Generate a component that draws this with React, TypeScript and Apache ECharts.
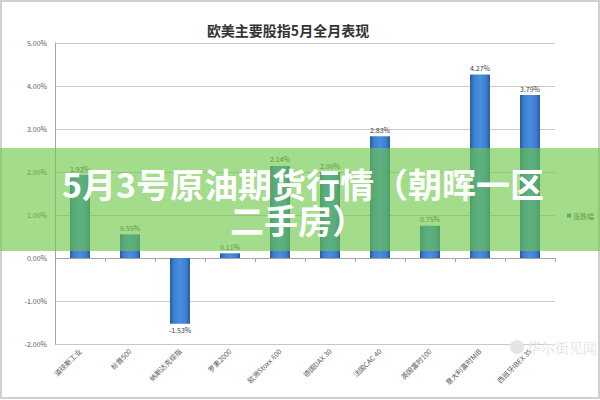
import React, { useEffect, useRef } from "react";
import * as echarts from "echarts";

const categories = ["道琼斯工业", "标普500", "纳斯达克综指", "罗素2000", "欧洲Stoxx 600", "德国DAX 30", "法国CAC 40", "英国富时100", "意大利富时MIB", "西班牙IBEX 35"];
const changes = [1.93, 0.55, -1.53, 0.11, 2.14, 2.0, 2.83, 0.75, 4.27, 3.79];
const yTicks = { min: -2, max: 5, interval: 1 };
const chartTitle = "欧美主要股指5月全月表现";
const seriesName = "涨跌幅";
const bannerLines = ["5月3号原油期货行情（朝晖一区", "二手房）"];
const watermark = "华尔街见闻";

export default function App() {
  const ref = useRef<HTMLDivElement>(null);
  useEffect(() => {
    if (!ref.current) return;
    const chart = echarts.init(ref.current, null, { renderer: "svg" });
    const font = "'Noto Sans CJK SC', 'Noto Sans', sans-serif";
    chart.setOption({
      animation: false,
      backgroundColor: "#ffffff",
      title: {
        text: chartTitle,
        left: 283,
        textAlign: "center",
        top: 18,
        textStyle: { fontFamily: font, fontSize: 14, fontWeight: "bold", color: "#333333" },
      },
      legend: {
        data: [seriesName],
        left: 562,
        top: 207,
        itemWidth: 4,
        itemHeight: 4,
        itemGap: 2,
        icon: "rect",
        textStyle: { fontFamily: font, fontSize: 7, color: "#595959", padding: [0, 0, 0, -3] },
      },
      grid: { left: 55, right: 45, top: 43, bottom: 56, containLabel: false },
      xAxis: {
        type: "category",
        data: categories,
        axisLine: { onZero: true, lineStyle: { color: "#a6a6a6", width: 1 } },
        axisTick: { show: true, length: 4, lineStyle: { color: "#a6a6a6" } },
        axisLabel: {
          rotate: 45,
          interval: 0,
          fontFamily: font,
          fontSize: 7,
          color: "#595959",
          margin: 6,
        },
      },
      yAxis: {
        type: "value",
        min: yTicks.min,
        max: yTicks.max,
        interval: yTicks.interval,
        axisLine: { show: true, lineStyle: { color: "#a6a6a6" } },
        axisTick: { show: false },
        splitLine: { lineStyle: { color: "#c8c8c8", width: 1 } },
        axisLabel: {
          fontFamily: font,
          fontSize: 7,
          color: "#595959",
          margin: 8,
          formatter: (v: number) => v.toFixed(2) + "%",
        },
      },
      series: [
        {
          name: seriesName,
          type: "bar",
          data: changes.map((v) =>
            v < 0 ? { value: v, label: { position: "bottom" } } : v
          ),
          barWidth: "40%",
          itemStyle: {
            color: new echarts.graphic.LinearGradient(0, 0, 1, 0, [
              { offset: 0, color: "#2a5a9c" },
              { offset: 0.2, color: "#3d7fd2" },
              { offset: 0.5, color: "#4a8ee0" },
              { offset: 0.8, color: "#3d7fd2" },
              { offset: 1, color: "#2a5a9c" },
            ]),
          },
          label: {
            show: true,
            position: "top",
            distance: 3,
            fontFamily: font,
            fontSize: 7,
            color: "#404040",
            formatter: (p: any) => Number(p.value).toFixed(2) + "%",
          },
        },
      ],
      graphic: [
        {
          type: "rect",
          shape: { x: 1, y: 1, width: 598, height: 397 },
          style: { fill: "none", stroke: "#d0d0d0", lineWidth: 2 },
          z: 100,
        },
        {
          type: "circle",
          shape: { cx: 517, cy: 347, r: 7 },
          style: { fill: "#e4e4e4" },
          z: 100,
        },
        {
          type: "text",
          x: 527,
          y: 347,
          style: {
            text: watermark,
            fontFamily: "'Noto Serif CJK SC', 'Noto Sans CJK SC', serif",
            fontSize: 14,
            fill: "#e2e2e2",
            textVerticalAlign: "middle",
          },
          z: 100,
        },
        {
          type: "rect",
          shape: { x: 0, y: 148, width: 600, height: 103 },
          style: { fill: "rgba(106,198,68,0.62)" },
          z: 200,
        },
        {
          type: "text",
          x: 303,
          y: 183,
          style: {
            text: bannerLines[0],
            fontFamily: font,
            fontSize: 34,
            fontWeight: "bold",
            fill: "#ffffff",
            textAlign: "center",
            textVerticalAlign: "middle",
          },
          z: 201,
        },
        {
          type: "text",
          x: 298,
          y: 219,
          style: {
            text: bannerLines[1],
            fontFamily: font,
            fontSize: 34,
            fontWeight: "bold",
            fill: "#ffffff",
            textAlign: "center",
            textVerticalAlign: "middle",
          },
          z: 201,
        },
      ],
    });
    return () => chart.dispose();
  }, []);
  return (
    <div
      ref={ref}
      style={{ position: "fixed", left: 0, top: 0, width: 600, height: 400 }}
    />
  );
}
